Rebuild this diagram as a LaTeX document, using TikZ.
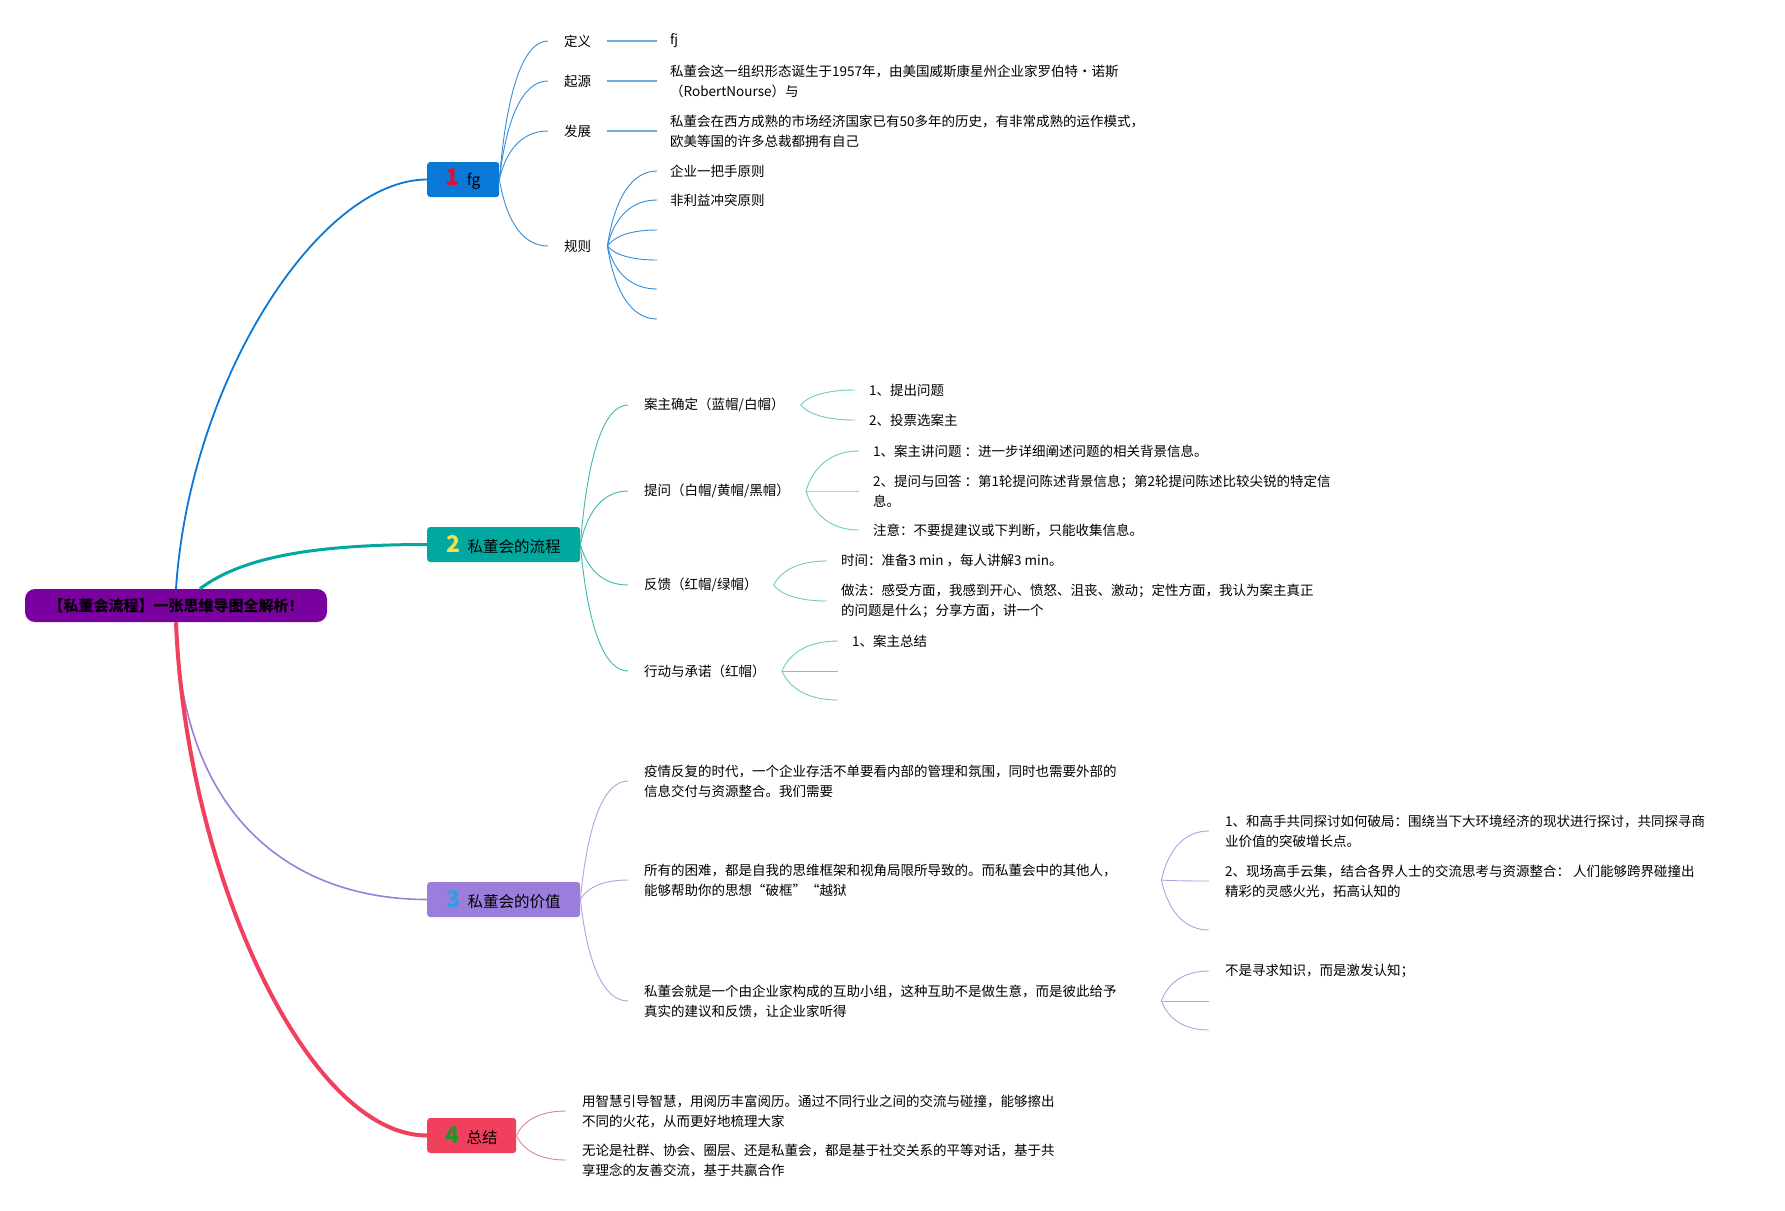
\documentclass[tikz,border=0pt]{standalone}
\usepackage{fontspec}
\setmainfont{Noto Sans CJK SC}
\usetikzlibrary{calc}

\definecolor{rootc}{RGB}{123,0,160}
\definecolor{bluec}{RGB}{10,120,215}
\definecolor{bluel}{RGB}{55,140,212}
\definecolor{bluell}{RGB}{110,170,222}
\definecolor{tealc}{RGB}{0,168,160}
\definecolor{teall}{RGB}{60,186,178}
\definecolor{tealll}{RGB}{110,204,198}
\definecolor{violc}{RGB}{155,125,220}
\definecolor{violl}{RGB}{178,162,226}
\definecolor{redc}{RGB}{240,64,94}
\definecolor{redl}{RGB}{236,125,148}
\definecolor{numred}{RGB}{215,20,50}
\definecolor{numyellow}{RGB}{240,225,80}
\definecolor{numblue}{RGB}{40,160,232}
\definecolor{numgreen}{RGB}{30,150,40}

\newcommand{\topicnum}[2]{{\color{#1}\fontsize{23}{23}\selectfont\bfseries #2}\hspace{7pt}}

\begin{document}
\begin{tikzpicture}[x=1pt, y=-1pt,
    root/.style={rectangle, fill=rootc, rounded corners=10pt, minimum width=302pt, minimum height=33pt, font=\fontsize{15}{15}\selectfont\bfseries},
    topic/.style={rectangle, rounded corners=3pt, anchor=west, minimum height=35pt, inner xsep=0pt, font=\fontsize{15.5}{16}\selectfont},
    sub/.style={anchor=west, inner xsep=16pt, inner ysep=2pt, align=left, font=\fontsize{13.5}{20}\selectfont},
    leaf/.style={sub, inner xsep=14pt},
    link/.style={to path={let \p1=(\tikztostart), \p2=(\tikztotarget) in
        .. controls ({\x1+0.15*(\x2-\x1)},{\y1+0.65*(\y2-\y1)}) and ({\x2-0.5*(\x2-\x1)},\y2) .. (\tikztotarget)}}]

    \fill[white] (0,0) rectangle (1785,1210);

    % Root and main topics
    \node[root] (root) at (176,605.5) {【私董会流程】一张思维导图全解析！};
    \node[topic, fill=bluec, minimum width=72pt] (fg) at (427,179.5) {\topicnum{numred}{1}fg};
    \node[topic, fill=tealc, minimum width=153pt] (flow) at (427,544.5) {\topicnum{numyellow}{2}私董会的流程};
    \node[topic, fill=violc, minimum width=153pt] (value) at (427,899.5) {\topicnum{numblue}{3}私董会的价值};
    \node[topic, fill=redc, minimum width=89pt] (summary) at (427,1135.5) {\topicnum{numgreen}{4}总结};

    % Topic 1
    \node[sub] (def) at (548,41) {定义};
    \node[sub] (origin) at (548,81) {起源};
    \node[sub] (devel) at (548,131) {发展};
    \node[sub] (rule) at (548,246) {规则};
    \node[leaf, inner xsep=13pt] (fj) at (657,41) {fj};
    \node[leaf, inner xsep=13pt] (originx) at (657,81) {私董会这一组织形态诞生于1957年，由美国威斯康星州企业家罗伯特·诺斯\\（RobertNourse）与};
    \node[leaf, inner xsep=13pt] (develx) at (657,131) {私董会在西方成熟的市场经济国家已有50多年的历史，有非常成熟的运作模式，\\欧美等国的许多总裁都拥有自己};
    \node[leaf, inner xsep=13pt] (rule1) at (657,171) {企业一把手原则};
    \node[leaf, inner xsep=13pt] (rule2) at (657,200) {非利益冲突原则};
    \coordinate (rule3) at (657,230);
    \coordinate (rule4) at (657,260);
    \coordinate (rule5) at (657,289);
    \coordinate (rule6) at (657,319);

    % Topic 2
    \node[sub] (owner) at (628,405) {案主确定（蓝帽/白帽）};
    \node[sub] (ask) at (628,491) {提问（白帽/黄帽/黑帽）};
    \node[sub] (feedback) at (628,585) {反馈（红帽/绿帽）};
    \node[sub] (action) at (628,671) {行动与承诺（红帽）};
    \node[leaf] (owner1) at (855,390) {1、提出问题};
    \node[leaf] (owner2) at (855,420) {2、投票选案主};
    \node[leaf] (ask1) at (859,451) {1、案主讲问题 ：进一步详细阐述问题的相关背景信息。};
    \node[leaf] (ask2) at (859,491) {2、提问与回答 ：第1轮提问陈述背景信息；第2轮提问陈述比较尖锐的特定信\\息。};
    \node[leaf] (ask3) at (859,530) {注意：不要提建议或下判断，只能收集信息。};
    \node[leaf] (fb1) at (827,561) {时间：准备3 min ，每人讲解3 min。};
    \node[leaf] (fb2) at (827,601) {做法：感受方面，我感到开心、愤怒、沮丧、激动；定性方面，我认为案主真正\\的问题是什么；分享方面，讲一个};
    \node[leaf] (act1) at (838,641) {1、案主总结};
    \coordinate (act2) at (838,671);
    \coordinate (act3) at (838,700);

    % Topic 3
    \node[sub, text width=501pt] (val1) at (628,781) {疫情反复的时代，一个企业存活不单要看内部的管理和氛围，同时也需要外部的\\信息交付与资源整合。我们需要};
    \node[sub, text width=501pt] (val2) at (628,880) {所有的困难，都是自我的思维框架和视角局限所导致的。而私董会中的其他人，\\能够帮助你的思想“破框”“越狱};
    \node[sub, text width=501pt] (val3) at (628,1001) {私董会就是一个由企业家构成的互助小组，这种互助不是做生意，而是彼此给予\\真实的建议和反馈，让企业家听得};
    \node[leaf, inner xsep=16pt] (break1) at (1209,831) {1、和高手共同探讨如何破局：围绕当下大环境经济的现状进行探讨，共同探寻商\\业价值的突破增长点。};
    \node[leaf, inner xsep=16pt] (break2) at (1209,881) {2、现场高手云集，结合各界人士的交流思考与资源整合： 人们能够跨界碰撞出\\精彩的灵感火光，拓高认知的};
    \coordinate (break3) at (1209,930);
    \node[leaf, inner xsep=16pt] (help1) at (1209,971) {不是寻求知识，而是激发认知；};
    \coordinate (help2) at (1209,1001);
    \coordinate (help3) at (1209,1030);

    % Topic 4
    \node[sub] (sum1) at (566,1111) {用智慧引导智慧，用阅历丰富阅历。通过不同行业之间的交流与碰撞，能够擦出\\不同的火花，从而更好地梳理大家};
    \node[sub] (sum2) at (566,1160) {无论是社群、协会、圈层、还是私董会，都是基于社交关系的平等对话，基于共\\享理念的友善交流，基于共赢合作};

    % Root to topics
    \draw[bluec, line width=1.8pt] (root.north) .. controls +(14,-210) and +(-107,0) .. (fg.west);
    \draw[tealc, line width=3pt] (root.35) .. controls +(40,-30) and +(-120,0) .. (flow.west);
    \draw[violc, line width=1.6pt] (root.south) .. controls +(5,200) and +(-130,0) .. (value.west);
    \draw[redc, line width=4pt] (root.south) .. controls +(10,250) and +(-120,0) .. (summary.west);

    % Topic 1 links
    \foreach \s in {def, origin, devel, rule}
        \draw[bluel, line width=0.9pt] (fg.east) to[link] (\s.west);
    \draw[bluell, line width=1.5pt] (def.east) -- (fj.west);
    \draw[bluell, line width=1.5pt] (origin.east) -- (originx.west);
    \draw[bluell, line width=1.5pt] (devel.east) -- (develx.west);
    \foreach \s in {rule1, rule2}
        \draw[bluel, line width=0.9pt] (rule.east) to[link] (\s.west);
    \foreach \s in {rule3, rule4, rule5, rule6}
        \draw[bluel, line width=0.9pt] (rule.east) to[link] (\s);

    % Topic 2 links
    \foreach \s in {owner, ask, feedback, action}
        \draw[teall, line width=0.9pt] (flow.east) to[link] (\s.west);
    \foreach \s in {owner1, owner2}
        \draw[tealll, line width=0.9pt] (owner.east) to[link] (\s.west);
    \foreach \s in {ask1, ask2, ask3}
        \draw[tealll, line width=0.9pt] (ask.east) to[link] (\s.west);
    \foreach \s in {fb1, fb2}
        \draw[tealll, line width=0.9pt] (feedback.east) to[link] (\s.west);
    \draw[tealll, line width=0.9pt] (action.east) to[link] (act1.west);
    \foreach \s in {act2, act3}
        \draw[tealll, line width=0.9pt] (action.east) to[link] (\s);

    % Topic 3 links
    \foreach \s in {val1, val2, val3}
        \draw[violl, line width=0.9pt] (value.east) to[link] (\s.west);
    \foreach \s in {break1, break2}
        \draw[violl, line width=0.9pt] (val2.east) to[link] (\s.west);
    \draw[violl, line width=0.9pt] (val2.east) to[link] (break3);
    \draw[violl, line width=0.9pt] (val3.east) to[link] (help1.west);
    \foreach \s in {help2, help3}
        \draw[violl, line width=0.9pt] (val3.east) to[link] (\s);

    % Topic 4 links
    \foreach \s in {sum1, sum2}
        \draw[redl, line width=0.9pt] (summary.east) to[link] (\s.west);
\end{tikzpicture}
\end{document}
